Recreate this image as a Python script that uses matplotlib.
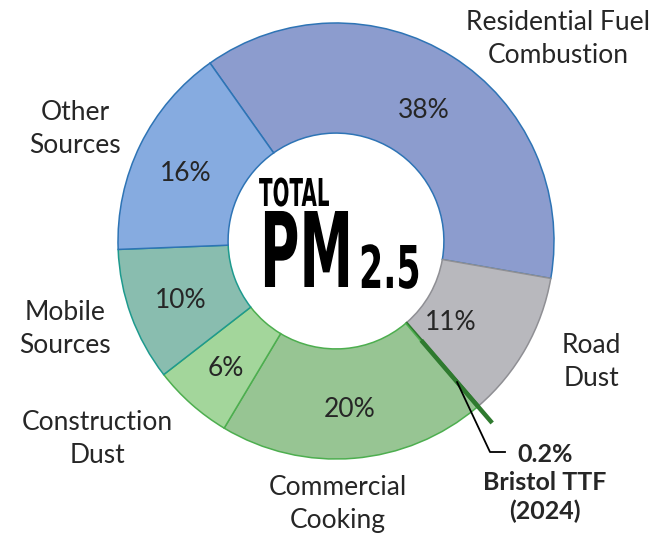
import matplotlib
matplotlib.use("Agg")
import matplotlib.pyplot as plt
import matplotlib.patheffects as pe
import numpy as np
from matplotlib.transforms import Affine2D

# data
sources = ["Residential Fuel\nCombustion", "Road\nDust", "Bristol TTF\n(2024)",
           "Commercial\nCooking", "Construction\nDust", "Mobile\nSources", "Other\nSources"]
shares = [38, 11, 0.2, 20, 6, 10, 16]
pct_text = ["38%", "11%", "0.2%", "20%", "6%", "10%", "16%"]

fill_colors = ["#8C9CCE", "#B8B8BD", "#2F7A2F", "#97C593", "#A3D69B", "#89BDAF", "#86ABE0"]
edge_colors = ["#2E74B5", "#8F8F94", "#2F7A2F", "#4DAE4F", "#4DAE4F", "#1E9A8E", "#2E74B5"]

# layout (pixels of the 670x539 picture)
CX, CY, R = 336, 241, 218
label_px = [(558, 39), (591, 362), (545, 483), (338, 504), (97, 439), (65, 329), (75, 129)]
pct_radius = [0.735, 0.64, None, 0.76, 0.76, 0.76, 0.76]
pct_turn = [1, 5, 0, 0, 0, 0, -1]   # degrees clockwise off the wedge middle
text_drop = 3 / R                    # va="center" sits a little high for digits/caps

# centre title: (left, baseline), text, ink width, cap height  -- in pixels
title_parts = [((259, 206), "TOTAL", 71, 28),
               ((260, 287), "PM", 93, 76),
               ((359, 288), "2.5", 62, 43)]


def px(x, y):
    return (x - CX) / R, (CY - y) / R


class Stretch(pe.AbstractPathEffect):
    # stretch text vertically from its baseline (gives a condensed look)
    def __init__(self, text, sy):
        super().__init__()
        self.text, self.sy = text, sy

    def draw_path(self, renderer, gc, tpath, affine, rgbFace=None):
        cx, cy = self.text.get_transform().transform(self.text.get_position())
        st = Affine2D().translate(-cx, -cy).scale(1, self.sy).translate(cx, cy)
        renderer.draw_path(gc, tpath, affine + st, rgbFace)


plt.rcParams["font.family"] = ["Lato", "DejaVu Sans"]
txt_color = "#262626"
fs = 19

fig = plt.figure(figsize=(6.7, 5.39), dpi=100)
ax = fig.add_axes([0, 0, 1, 1])

# Residential begins about 35 deg left of the top, wedges go clockwise
wedges, _ = ax.pie(shares, colors=fill_colors, startangle=125.3, counterclock=False,
                   radius=1, wedgeprops=dict(width=0.505, linewidth=1.1))
for w, ec in zip(wedges, edge_colors):
    w.set_edgecolor(ec)

ax.set_xlim(-CX / R, (670 - CX) / R)
ax.set_ylim((CY - 539) / R, CY / R)
ax.axis("off")

# percentages inside the ring
for w, r, turn, s in zip(wedges, pct_radius, pct_turn, pct_text):
    if r is None:
        continue
    a = np.deg2rad((w.theta1 + w.theta2) / 2 - turn)
    ax.text(r * np.cos(a), r * np.sin(a) - text_drop, s, ha="center", va="center",
            fontsize=fs, color=txt_color)

# category names outside
for i, (name, (x, y)) in enumerate(zip(sources, label_px)):
    if i == 2:
        continue
    ax.text(*px(x, y), name, ha="center", va="center", fontsize=fs,
            color=txt_color, linespacing=1.4)

# Bristol TTF sliver: thick line sticking out of the ring
ttf = wedges[2]
a = np.deg2rad((ttf.theta1 + ttf.theta2) / 2)
ax.plot([0.6 * np.cos(a), 1.1 * np.cos(a)], [0.6 * np.sin(a), 1.1 * np.sin(a)],
        color=fill_colors[2], lw=3.2, solid_capstyle="butt")
ex, ey = px(490, 452)
fx, fy = px(505, 452)
ax.plot([0.853 * np.cos(a), ex, fx], [0.853 * np.sin(a), ey, fy], color="black", lw=1.3)
ax.text(*px(*label_px[2]), "0.2%\n" + sources[2], ha="center", va="center",
        fontsize=fs - 1, fontweight="bold", color=txt_color, linespacing=1.27)

# centre title: size the bold font to the width, then stretch up to the height
renderer = fig.canvas.get_renderer()
for (x, y), s, w_px, h_px in title_parts:
    t = ax.text(*px(x, y), s, fontsize=10, fontweight="bold", family="DejaVu Sans",
                ha="left", va="baseline", color="black")
    size = 10 * w_px / t.get_window_extent(renderer).width
    t.set_fontsize(size)
    t.set_path_effects([Stretch(t, h_px / (0.729 * size * fig.dpi / 72))])

fig.savefig("out.png", dpi=100, facecolor="white")
